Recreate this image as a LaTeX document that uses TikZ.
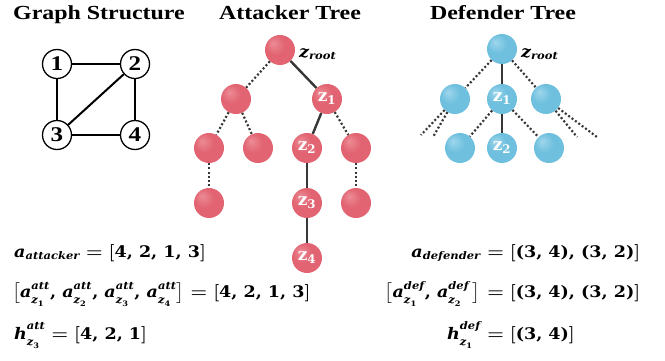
\documentclass[tikz,border=0pt]{standalone}
\usepackage{fontspec}
\setmainfont{Liberation Serif}
\newfontfamily\formfont{DejaVu Serif}
\usepackage{amsmath}
\usepackage{graphicx}

\definecolor{attbase}{RGB}{226,100,114}
\definecolor{attlight}{RGB}{236,140,150}
\definecolor{defbase}{RGB}{110,192,222}
\definecolor{deflight}{RGB}{160,214,236}
\definecolor{edgegray}{RGB}{55,55,55}

% soft spheres: flat colour with a faint highlight towards the upper left
\pgfdeclareradialshading{attball}{\pgfpoint{-12bp}{12bp}}{%
  color(0bp)=(attlight); color(16bp)=(attbase); color(50bp)=(attbase)}
\pgfdeclareradialshading{defball}{\pgfpoint{-12bp}{12bp}}{%
  color(0bp)=(deflight); color(16bp)=(defbase); color(50bp)=(defbase)}

% bold italic letters and bold upright figures for the formulas
\newcommand{\bi}[1]{\text{\formfont\bfseries\itshape #1}}
\newcommand{\bd}[1]{\text{\formfont\bfseries #1}}
% first and second level indices
\newcommand{\sbi}[1]{\mbox{\formfont\bfseries\itshape\fontsize{10.5}{12}\selectfont #1}}
\newcommand{\ssbd}[1]{\mbox{\formfont\bfseries\fontsize{7.5}{9}\selectfont #1}}
\newcommand{\supi}[1]{\raisebox{1.2pt}{\sbi{#1}}}
\newcommand{\zi}[1]{\raisebox{-1.2pt}{$\sbi{z}_{\ssbd{#1}}$}}
% slightly widened type
\newcommand{\wide}[2][1.2]{\scalebox{#1}[1]{#2}}

\tikzset{
  title/.style={font=\fontsize{20}{24}\selectfont\bfseries, anchor=base, inner sep=0},
  gnode/.style={circle, draw=black, line width=1.3bp, minimum size=29bp, inner sep=0,
    font=\fontsize{21}{24}\selectfont\bfseries},
  gedge/.style={line width=2bp, draw=black},
  treenode/.style={circle, minimum size=30bp, inner sep=0, shade,
    text=white, font=\fontsize{17}{20}\selectfont},
  attnode/.style={treenode, shading=attball},
  defnode/.style={treenode, shading=defball},
  tsolid/.style={line width=2.4bp, draw=edgegray},
  tdots/.style={line width=2.2bp, draw=edgegray, dash pattern=on 2bp off 2.2bp},
  zlabel/.style={anchor=base west, inner sep=0, font=\fontsize{16}{20}\selectfont},
  formula/.style={inner sep=0, font=\fontsize{16}{20}\selectfont\boldmath},
}

\begin{document}
\begin{tikzpicture}[x=1bp, y=-1bp]
\useasboundingbox (0,0) rectangle (665,360);

% ---------- titles ----------
\node[title] (t1) at (99,19) {\wide{Graph Structure}};
\node[title] (t2) at (290,19) {\wide{Attacker Tree}};
\node[title] (t3) at (503,19) {\wide{Defender Tree}};

% ---------- graph ----------
\node[gnode] (g1) at (57,64) {\wide{1}};
\node[gnode] (g2) at (135,64) {\wide{2}};
\node[gnode] (g3) at (57,135) {\wide{3}};
\node[gnode] (g4) at (135,135) {\wide{4}};
\draw[gedge] (g1) -- (g2);
\draw[gedge] (g1) -- (g3);
\draw[gedge] (g2) -- (g3);
\draw[gedge] (g2) -- (g4);
\draw[gedge] (g3) -- (g4);

% ---------- attacker tree ----------
\node[attnode] (ar) at (280,50) {};
\node[zlabel] (arl) at (299,57) {\wide[1.1]{$\bi{z}_{\sbi{root}}$}};
\node[attnode] (al) at (236,99) {};
\node[attnode] (a1) at (327,99) {$\bd{z}_{\bd{1}}$};
\node[attnode] (all) at (209,148) {};
\node[attnode] (alr) at (258,148) {};
\node[attnode] (a2) at (307,148) {$\bd{z}_{\bd{2}}$};
\node[attnode] (a1r) at (356,148) {};
\node[attnode] (alll) at (209,203) {};
\node[attnode] (a3) at (307,203) {$\bd{z}_{\bd{3}}$};
\node[attnode] (a1rr) at (356,203) {};
\node[attnode] (a4) at (307,258) {$\bd{z}_{\bd{4}}$};
\draw[tdots] (ar) -- (al);
\draw[tsolid] (ar) -- (a1);
\draw[tdots] (al) -- (all);
\draw[tdots] (al) -- (alr);
\draw[tsolid] (a1) -- (a2);
\draw[tdots] (a1) -- (a1r);
\draw[tdots] (all) -- (alll);
\draw[tsolid] (a2) -- (a3);
\draw[tdots] (a1r) -- (a1rr);
\draw[tsolid] (a3) -- (a4);

% ---------- defender tree ----------
\node[defnode] (dr) at (502,49) {};
\node[zlabel] (drl) at (521,57) {\wide[1.1]{$\bi{z}_{\sbi{root}}$}};
\node[defnode] (dl) at (455,99) {};
\node[defnode] (d1) at (502,99) {$\bd{z}_{\bd{1}}$};
\node[defnode] (drt) at (546,99) {};
\node[defnode] (d1l) at (460,148) {};
\node[defnode] (d2) at (502,148) {$\bd{z}_{\bd{2}}$};
\node[defnode] (d1r) at (549,148) {};
\coordinate (dla) at (421,135);
\coordinate (dlb) at (433,137);
\coordinate (dra) at (577,137);
\coordinate (drb) at (597,137);
\draw[tdots] (dr) -- (dl);
\draw[tsolid] (dr) -- (d1);
\draw[tdots] (dr) -- (drt);
\draw[tdots] (d1) -- (d1l);
\draw[tsolid] (d1) -- (d2);
\draw[tdots] (d1) -- (d1r);
\draw[tdots] (dl) -- (dla);
\draw[tdots] (dl) -- (dlb);
\draw[tdots] (drt) -- (dra);
\draw[tdots] (drt) -- (drb);

% ---------- attacker formulas ----------
\node[formula, anchor=base west] (fa1) at (14,257)
  {\wide[1.1]{$\bi{a}_{\sbi{attacker}} = [\bd{4, 2, 1, 3}]$}};
\node[formula, anchor=base west] (fa2) at (12,297)
  {\wide[1.1]{$\bigl[\bi{a}^{\supi{att}}_{\zi{1}}\bd{, }\bi{a}^{\supi{att}}_{\zi{2}}\bd{, }\bi{a}^{\supi{att}}_{\zi{3}}\bd{, }\bi{a}^{\supi{att}}_{\zi{4}}\bigr] = [\bd{4, 2, 1, 3}]$}};
\node[formula, anchor=base west] (fa3) at (14,339)
  {\wide[1.1]{$\bi{h}^{\supi{att}}_{\zi{3}} = [\bd{4, 2, 1}]$}};

% ---------- defender formulas (aligned on =) ----------
\node[formula, anchor=base east] (fd1l) at (481,257) {\wide[1.1]{$\bi{a}_{\sbi{defender}}$}};
\node[formula, anchor=base west] (fd1r) at (481,257) {\wide[1.1]{${}= [\bd{(3, 4), (3, 2)}]$}};
\node[formula, anchor=base east] (fd2l) at (481,297)
  {\wide[1.1]{$\bigl[\bi{a}^{\supi{def}}_{\zi{1}}\bd{, }\bi{a}^{\supi{def}}_{\zi{2}}\,\bigr]$}};
\node[formula, anchor=base west] (fd2r) at (481,297) {\wide[1.1]{${}= [\bd{(3, 4), (3, 2)}]$}};
\node[formula, anchor=base east] (fd3l) at (481,339) {\wide[1.1]{$\bi{h}^{\supi{def}}_{\zi{1}}$}};
\node[formula, anchor=base west] (fd3r) at (481,339) {\wide[1.1]{${}= [\bd{(3, 4)}]$}};
\end{tikzpicture}
\end{document}
